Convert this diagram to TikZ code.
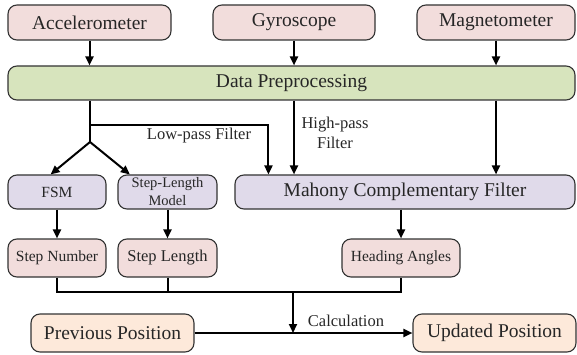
\documentclass[tikz,border=0pt]{standalone}
\usepackage{fontspec}
\setmainfont{Liberation Serif}
\newfontfamily\figfont{Liberation Serif}
\usetikzlibrary{arrows.meta,positioning,calc}

\definecolor{sensorpink}{HTML}{F2DDDC}
\definecolor{procgreen}{HTML}{D7E4BD}
\definecolor{filterpurple}{HTML}{E0DAEA}
\definecolor{pospeach}{HTML}{FDE9DA}

\tikzset{
  blk/.style={draw=black!80, line width=1.1pt, rounded corners=9pt, align=center,
    text=black!85, inner sep=0pt},
  bigblk/.style={blk, font=\figfont\fontsize{19.5}{22}\selectfont, minimum height=35pt},
  smallblk/.style={blk, font=\figfont\fontsize{15.5}{18}\selectfont, minimum height=34pt},
  lbl/.style={text=black!85, font=\figfont\fontsize{16.5}{19}\selectfont, inner sep=0pt, align=center},
  flow/.style={-{Triangle[length=9pt,width=8pt]}, line width=2pt},
  wire/.style={line width=2pt},
}

\begin{document}
\begin{tikzpicture}[x=1pt, y=-1pt]
  \useasboundingbox (0,0) rectangle (577,355);
  % sensors
  \node[bigblk, fill=sensorpink, minimum width=163pt] (acc)  at (89.5,22.5) {Accelerometer};
  \node[bigblk, fill=sensorpink, minimum width=162pt] (gyro) at (294,22.5)  {Gyroscope};
  \node[bigblk, fill=sensorpink, minimum width=158pt] (mag)  at (496,22.5)  {Magnetometer};
  \node[bigblk, fill=procgreen, minimum width=567pt, minimum height=34pt] (pre) at (291.5,83) {Data Preprocessing};
  % models and filter
  \node[smallblk, fill=filterpurple, minimum width=98pt] (fsm) at (57,192) {FSM};
  \node[smallblk, fill=filterpurple, minimum width=99pt, font=\figfont\fontsize{14.5}{18}\selectfont] (slm) at (167.5,192) {Step-Length\\Model};
  \node[bigblk, fill=filterpurple, minimum width=340pt, minimum height=34pt] (mah) at (405,192) {Mahony Complementary Filter};
  % outputs
  \node[smallblk, fill=sensorpink, minimum width=98pt, minimum height=38pt] (sn) at (57,258) {Step Number};
  \node[smallblk, fill=sensorpink, minimum width=99pt, minimum height=38pt, font=\figfont\fontsize{16.5}{19}\selectfont] (sl) at (167.5,258) {Step Length};
  \node[smallblk, fill=sensorpink, minimum width=118pt, minimum height=38pt] (ha) at (401,258) {Heading Angles};
  \node[bigblk, fill=pospeach, minimum width=163pt, minimum height=38pt] (prev) at (112.5,333) {Previous Position};
  \node[bigblk, fill=pospeach, minimum width=163pt, minimum height=38pt] (upd)  at (494.5,333) {Updated Position};

  \coordinate (lp) at (90,125);
  \coordinate (split) at (90,142);
  \coordinate (join) at (293,292);

  \draw[flow] (acc) -- (pre.north -| acc);
  \draw[flow] (gyro) -- (pre.north -| gyro);
  \draw[flow] (mag) -- (pre.north -| mag);
  % preprocessed data to step detection and filter
  \draw[wire] (pre.south -| split) -- (split);
  \draw[flow] (split) -- (fsm.110);
  \draw[flow] (split) -- (slm.155);
  \draw[flow] (lp) -| ($(mah.north west)+(34,0)$);
  \node[lbl] (lowpass) at (199,136) {Low-pass Filter};
  \draw[flow] (pre.south -| gyro) -- (mah.north -| gyro);
  \node[lbl, font=\figfont\fontsize{16.5}{20}\selectfont] (highpass) at (335,133) {High-pass\\Filter};
  \draw[flow] (pre.south -| mag) -- (mah.north -| mag);
  \draw[flow] (fsm) -- (sn);
  \draw[flow] (slm) -- (sl);
  \draw[flow] (mah.south -| ha) -- (ha);
  % position update
  \draw[wire] (sn.south) |- (join) -| (ha.south);
  \draw[wire] (sl.south) -- (sl.south |- join);
  \draw[flow] (join) -- (join |- prev.east);
  \draw[flow] (prev) -- (upd);
  \node[lbl] (calclbl) at (346,321) {Calculation};
\end{tikzpicture}
\end{document}
